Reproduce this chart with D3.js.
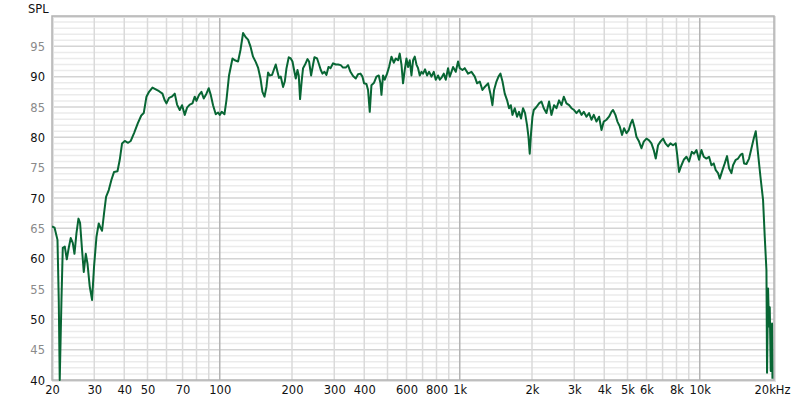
<!DOCTYPE html>
<html><head><meta charset="utf-8">
<script src="https://cdn.jsdelivr.net/npm/d3@7"></script>
<style>
body{margin:0;background:#fff;}
svg{display:block;font-family:"DejaVu Sans",Verdana,sans-serif;}
</style>
</head><body>
<svg id="chart" width="800" height="403"></svg>
<script>
// Frequency (Hz) of each measured point
const freqs = [20,20.5,21.08,21.34,21.54,21.9,22.18,22.61,23.05,23.49,23.94,24.41,24.81,25.29,25.78,26.18,26.69,27.13,27.66,28.11,28.73,29.37,29.94,30.64,31.32,31.93,32.33,32.96,33.6,34.48,35.38,36.28,37.49,38.31,39.17,40.2,41.5,42.58,43.95,45.54,47.09,48.23,49.5,50.75,52.43,54.12,55.86,57.71,58.99,59.96,61.48,63.1,64.94,66.39,68.13,69.65,71.48,73.08,74.99,76.96,78.67,79.97,81.98,83.89,85.77,88.01,89.98,91.73,93.78,96.24,98.38,
100,101.9,104.6,106.6,109.3,113,115.5,119.2,122,125.1,128.3,131.2,134.2,137.6,141.3,144.4,147.8,150.6,153.6,156.5,159,161.6,165.2,167.9,171.1,174,176.6,179.6,183.6,186.6,189.7,193.9,197.6,200.9,204,207.4,210.8,213.4,216.1,219.6,222.4,226.7,232,235.6,240.2,244.8,248.1,254.4,259.3,263.6,267.9,273.1,278.4,283.8,289.3,296.6,304.4,311.2,319.3,326.4,335,342.4,350.4,359.3,368.7,376.9,385.7,393.2,399.2,408.5,414.9,421.7,428.6,439.5,449.7,459.8,467.3,471.8,479.1,487,497.8,507.5,519.3,530.9,541.2,553.3,562.3,571.6,580.4,590,599.7,609,619,629.2,639,649.4,660.1,670.3,681.3,692.5,703.2,716.8,730.7,744.9,762.2,779.2,794.3,812.1,825.4,841.4,857.7,874.3,893.8,908.5,923.5,937.8,962.4,983.8,
1000,1026,1049,1083,1119,1155,1181,1212,1243,1271,1312,1342,1368,1390,1422,1450,1478,1507,1540,1575,1605,1632,1658,1695,1733,1766,1800,1835,1871,1907,1933,1957,1982,2009,2034,2087,2140,2190,2239,2297,2356,2410,2471,2529,2593,2653,2713,2784,2855,2921,2995,3065,3142,3216,3287,3373,3458,3539,3618,3713,3807,3896,3981,4085,4188,4286,4352,4453,4539,4642,4745,4837,4950,5060,5158,5243,5360,5448,5586,5716,5843,5996,6148,6291,6431,6556,6702,6858,7031,7195,7377,7548,7739,7943,8043,8199,8390,8577,8803,9025,9261,9468,9689,9933,
10164,10391,10663,10932,11187,11437,11659,11919,12115,12433,12710,12994,13246,13554,13764,14125,14440,14777,15063,15296,15652,16048,16422,16788,17113,17495,17902,18353,18655,18962,19072,19256,19442,19573,19761,19895,20010,20087];
// Sound pressure level (dB) at each frequency
const spl = [65.3,65.1,63.1,53.2,40,53.2,61.8,62.0,59.9,61.8,63.4,62.6,60.8,64.2,66.6,65.9,61.4,57.8,60.8,59.2,55.4,53.2,58.7,63.6,65.8,65.0,64.6,67.5,70.2,71.3,73.0,74.3,74.4,76.3,79.0,79.4,79.1,79.4,80.7,82.3,83.6,84.0,86.7,87.5,88.2,87.9,87.6,87.2,86.1,85.6,86.5,86.7,87.2,85.4,84.5,85.3,83.7,84.9,85.4,85.6,86.7,86.0,87.0,87.5,86.4,87.2,88.1,87.0,85.3,83.8,84.1,
83.7,84.2,83.8,86.1,90.2,93.0,92.7,92.5,94.4,97.2,96.5,96.1,95.0,93.3,92.4,91.5,89.7,87.5,86.7,88.3,90.7,90.2,90.3,91.1,92.0,90.8,89.8,90.0,88.3,89.2,91.4,93.2,93.0,92.5,91.1,89.7,91.1,90.2,86.3,89.4,91.4,92.0,92.9,92.5,90.2,92.0,93.2,93.0,92.0,91.1,90.5,90.8,90.3,91.6,91.4,92.2,92.0,92.0,91.9,91.5,91.5,91.9,90.8,90.1,89.7,90.4,90.5,90.0,88.9,88.8,87.8,84.2,88.6,89.0,90.0,90.2,88.9,87.0,90.2,89.5,90.5,91.6,93.3,92.3,93.0,92.7,93.8,92.0,88.9,91.1,93.0,91.6,92.7,90.2,92.7,93.3,92.0,91.4,90.2,90.8,90.5,91.2,90.2,90.8,90.0,90.8,89.5,90.2,89.5,89.9,90.5,89.5,91.4,90.0,90.8,91.6,90.8,92.5,
91.4,91.1,91.4,90.5,90.8,90.0,88.9,89.2,87.8,88.3,88.9,87.2,85.3,87.8,89.2,90.0,90.5,89.2,87.2,86.1,84.8,85.3,83.7,84.8,83.4,84.2,83.1,84.8,84.0,82.0,80.1,77.3,80.7,83.4,84.5,85.0,85.6,85.9,84.8,84.0,85.9,83.7,85.3,84.8,86.1,85.3,86.7,85.6,85.3,84.8,84.5,84.0,84.5,83.7,84.2,83.4,84.0,82.9,83.7,82.6,83.4,81.2,82.6,82.9,83.4,84.2,84.5,83.7,82.6,81.8,80.4,81.5,80.7,81.2,82.3,82.9,81.5,80.1,79.3,78.2,79.3,79.8,79.5,79.0,77.9,76.5,78.7,79.3,79.8,79.0,78.5,79.0,78.7,79.0,77.3,74.3,75.4,76.3,76.8,76.0,77.6,77.3,77.9,76.3,
77.9,76.8,76.5,76.8,75.4,75.7,74.6,74.1,73.2,74.6,75.7,76.9,74.9,74.1,75.4,76.3,76.5,77.1,77.3,75.7,75.6,76.5,78.2,79.8,81.0,77.3,73.5,69.7,63.6,58.1,41.2,55.1,48.8,52.0,41.5,48.0,49.3,40.2];

const yTicks = [40,45,50,55,60,65,70,75,80,85,90,95];
const xTicks = [20,30,40,50,70,100,200,300,400,600,800,1000,2000,3000,4000,5000,6000,8000,10000,20000];
const xTickLabels = ["20","30","40","50","70","100","200","300","400","600","800","1k","2k","3k","4k","5k","6k","8k","10k","20kHz"];
const xGrid = [30,40,50,60,70,80,90,100,200,300,400,500,600,700,800,900,1000,2000,3000,4000,5000,6000,7000,8000,9000,10000];
const yLabel = "SPL";

const svg = d3.select("#chart");
const L = 52, T = 16, R = 774, B = 380;
const x = d3.scaleLog().domain([20, 20000]).range([52, 772]);
const y = d3.scaleLinear().domain([40, 100]).range([B, T]);

svg.append("rect").attr("x",0).attr("y",0).attr("width",800).attr("height",403).attr("fill","#fff");
svg.append("rect").attr("x",L).attr("y",T).attr("width",R-L).attr("height",B-T).attr("fill","#fff");

// horizontal grid every 1 dB
const hg = svg.append("g");
d3.range(41,100).forEach(v=>{
  hg.append("line").attr("x1",L).attr("x2",R).attr("y1",y(v)).attr("y2",y(v))
    .attr("stroke", v%5===0 ? "#d4d4d4" : "#ebebeb").attr("stroke-width",1.5);
});
// vertical grid
const vg = svg.append("g");
xGrid.forEach(f=>{
  const dec = (f===100||f===1000||f===10000);
  vg.append("line").attr("x1",x(f)).attr("x2",x(f)).attr("y1",T).attr("y2",B)
    .attr("stroke", dec ? "#b4b4b4" : "#dadada").attr("stroke-width",1.5);
});

// frame
svg.append("rect").attr("x",L+1).attr("y",T+1).attr("width",R-L).attr("height",B-T)
  .attr("fill","none").attr("stroke","#e2e2e2").attr("stroke-width",2);
svg.append("rect").attr("x",L).attr("y",T).attr("width",R-L).attr("height",B-T)
  .attr("fill","none").attr("stroke","#b2b2b2").attr("stroke-width",1.5);

// curve
svg.append("clipPath").attr("id","clip").append("rect").attr("x",L).attr("y",T).attr("width",R-L).attr("height",B-T+1);
const line = d3.line().x((d,i)=>x(freqs[i])).y(d=>y(d));
svg.append("path").datum(spl).attr("d",line).attr("clip-path","url(#clip)")
  .attr("fill","none").attr("stroke","#086634").attr("stroke-width",2).attr("stroke-linejoin","round");

// y axis
const ya = svg.append("g").attr("transform",`translate(${L-7},0)`)
  .call(d3.axisLeft(y).tickValues(yTicks).tickSize(0).tickPadding(0));
ya.select(".domain").remove();
ya.selectAll("text").attr("font-size",11.5).attr("font-family","'DejaVu Sans',sans-serif")
  .attr("fill",d=> d%10===0 ? "#111" : "#8a8a8a").attr("dy","0.36em");

// x axis
const xa = svg.append("g").attr("transform",`translate(0,${B+6})`)
  .call(d3.axisBottom(x).tickValues(xTicks).tickFormat((d,i)=>xTickLabels[i]).tickSize(0).tickPadding(0));
xa.select(".domain").remove();
xa.selectAll("text").attr("font-size",11.5).attr("font-family","'DejaVu Sans',sans-serif").attr("fill","#111").attr("dy","0.71em");

svg.append("text").attr("x",28).attr("y",13).attr("font-size",11.5).attr("fill","#111").text(yLabel);
</script>
</body></html>
